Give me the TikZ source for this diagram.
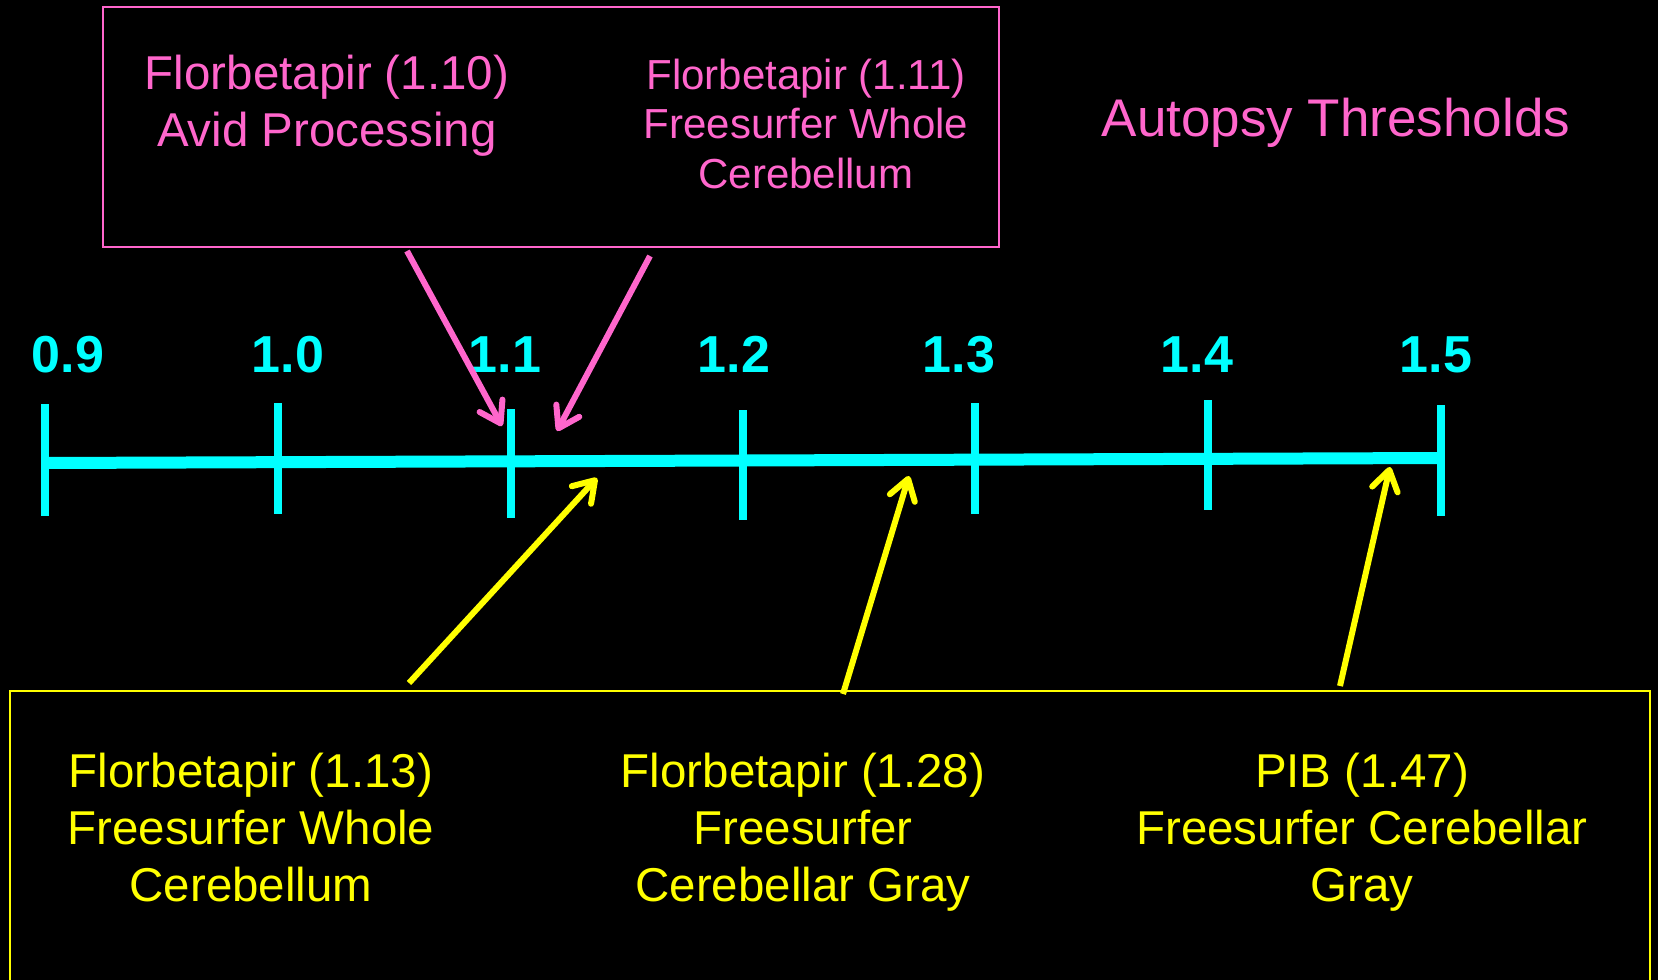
\documentclass[tikz,border=0pt]{standalone}
\usepackage{fontspec}
\setmainfont{Liberation Sans}
\usetikzlibrary{arrows.meta}
\definecolor{axcyan}{HTML}{00FFFF}
\definecolor{lblpink}{HTML}{FF66CC}
\definecolor{lblyellow}{HTML}{FFFF00}
\tikzset{
  axisline/.style={draw=axcyan,line width=12pt},
  tickline/.style={draw=axcyan,line width=8pt},
  ticklabel/.style={text=axcyan,font=\bfseries\fontsize{52}{60}\selectfont,anchor=base,inner sep=0pt},
  pinktext/.style={text=lblpink,align=center,anchor=base,inner sep=0pt},
  yellowtext/.style={text=lblyellow,align=center,anchor=base,inner sep=0pt,font=\fontsize{47.5}{57}\selectfont},
  pinkarrow/.style={draw=lblpink,line width=6pt,-{Straight Barb[length=20pt,width=26pt,round]}},
  yellowarrow/.style={draw=lblyellow,line width=6pt,-{Straight Barb[length=20pt,width=26pt,round]}},
}
\begin{document}
\begin{tikzpicture}[x=1pt,y=-1pt]
\useasboundingbox (0,0) rectangle (1658,980);
\fill[black] (0,0) rectangle (1658,980);

% boxes
\node[draw=lblpink,line width=2.5pt,minimum width=896pt,minimum height=240pt,inner sep=0pt] (pinkbox) at (551,127) {};
\node[draw=lblyellow,line width=2.5pt,minimum width=1640pt,minimum height=320pt,inner sep=0pt] (yellowbox) at (830,851) {};

% axis
\coordinate (a0) at (45,463);
\coordinate (a6) at (1441,458);
\draw[axisline] (a0) -- (a6);
\coordinate (t0a) at (45,404);   \coordinate (t0b) at (45,516);
\coordinate (t1a) at (278,403);  \coordinate (t1b) at (278,514);
\coordinate (t2a) at (511,409);  \coordinate (t2b) at (511,518);
\coordinate (t3a) at (743,410);  \coordinate (t3b) at (743,520);
\coordinate (t4a) at (975,403);  \coordinate (t4b) at (975,514);
\coordinate (t5a) at (1208,400); \coordinate (t5b) at (1208,510);
\coordinate (t6a) at (1441,405); \coordinate (t6b) at (1441,516);
\foreach \i in {0,...,6} {\draw[tickline] (t\i a) -- (t\i b);}

% tick labels
\node[ticklabel] (l09) at (68,372) {0.9};
\node[ticklabel] (l10) at (288,372) {1.0};
\node[ticklabel] (l11) at (505,372) {1.1};
\node[ticklabel] (l12) at (734,372) {1.2};
\node[ticklabel] (l13) at (959,372) {1.3};
\node[ticklabel] (l14) at (1197,372) {1.4};
\node[ticklabel] (l15) at (1436,372) {1.5};

% pink texts (base anchor = last line's baseline)
\node[pinktext,font=\fontsize{47.5}{57}\selectfont] (avid) at (327,146) {Florbetapir (1.10)\\Avid Processing};
\node[pinktext,font=\fontsize{42}{49.5}\selectfont] (fswc) at (806,188) {Florbetapir (1.11)\\Freesurfer Whole\\Cerebellum};
\node[pinktext,font=\fontsize{53}{60}\selectfont] (title) at (1336,136) {Autopsy Thresholds};

% yellow texts
\node[yellowtext] (y1) at (251,901) {Florbetapir (1.13)\\Freesurfer Whole\\Cerebellum};
\node[yellowtext] (y2) at (803,901) {Florbetapir (1.28)\\Freesurfer\\Cerebellar Gray};
\node[yellowtext] (y3) at (1362,901) {PIB (1.47)\\Freesurfer Cerebellar\\Gray};

% pink arrows
\coordinate (p1s) at (407,251); \coordinate (p1e) at (502,426);
\coordinate (p2s) at (650,256); \coordinate (p2e) at (557,431);
\draw[pinkarrow] (p1s) -- (p1e);
\draw[pinkarrow] (p2s) -- (p2e);

% yellow arrows
\coordinate (q1s) at (409,683);  \coordinate (q1e) at (597,478);
\coordinate (q2s) at (843,694);  \coordinate (q2e) at (909,476);
\coordinate (q3s) at (1340,686); \coordinate (q3e) at (1390,467);
\draw[yellowarrow] (q1s) -- (q1e);
\draw[yellowarrow] (q2s) -- (q2e);
\draw[yellowarrow] (q3s) -- (q3e);
\end{tikzpicture}
\end{document}
